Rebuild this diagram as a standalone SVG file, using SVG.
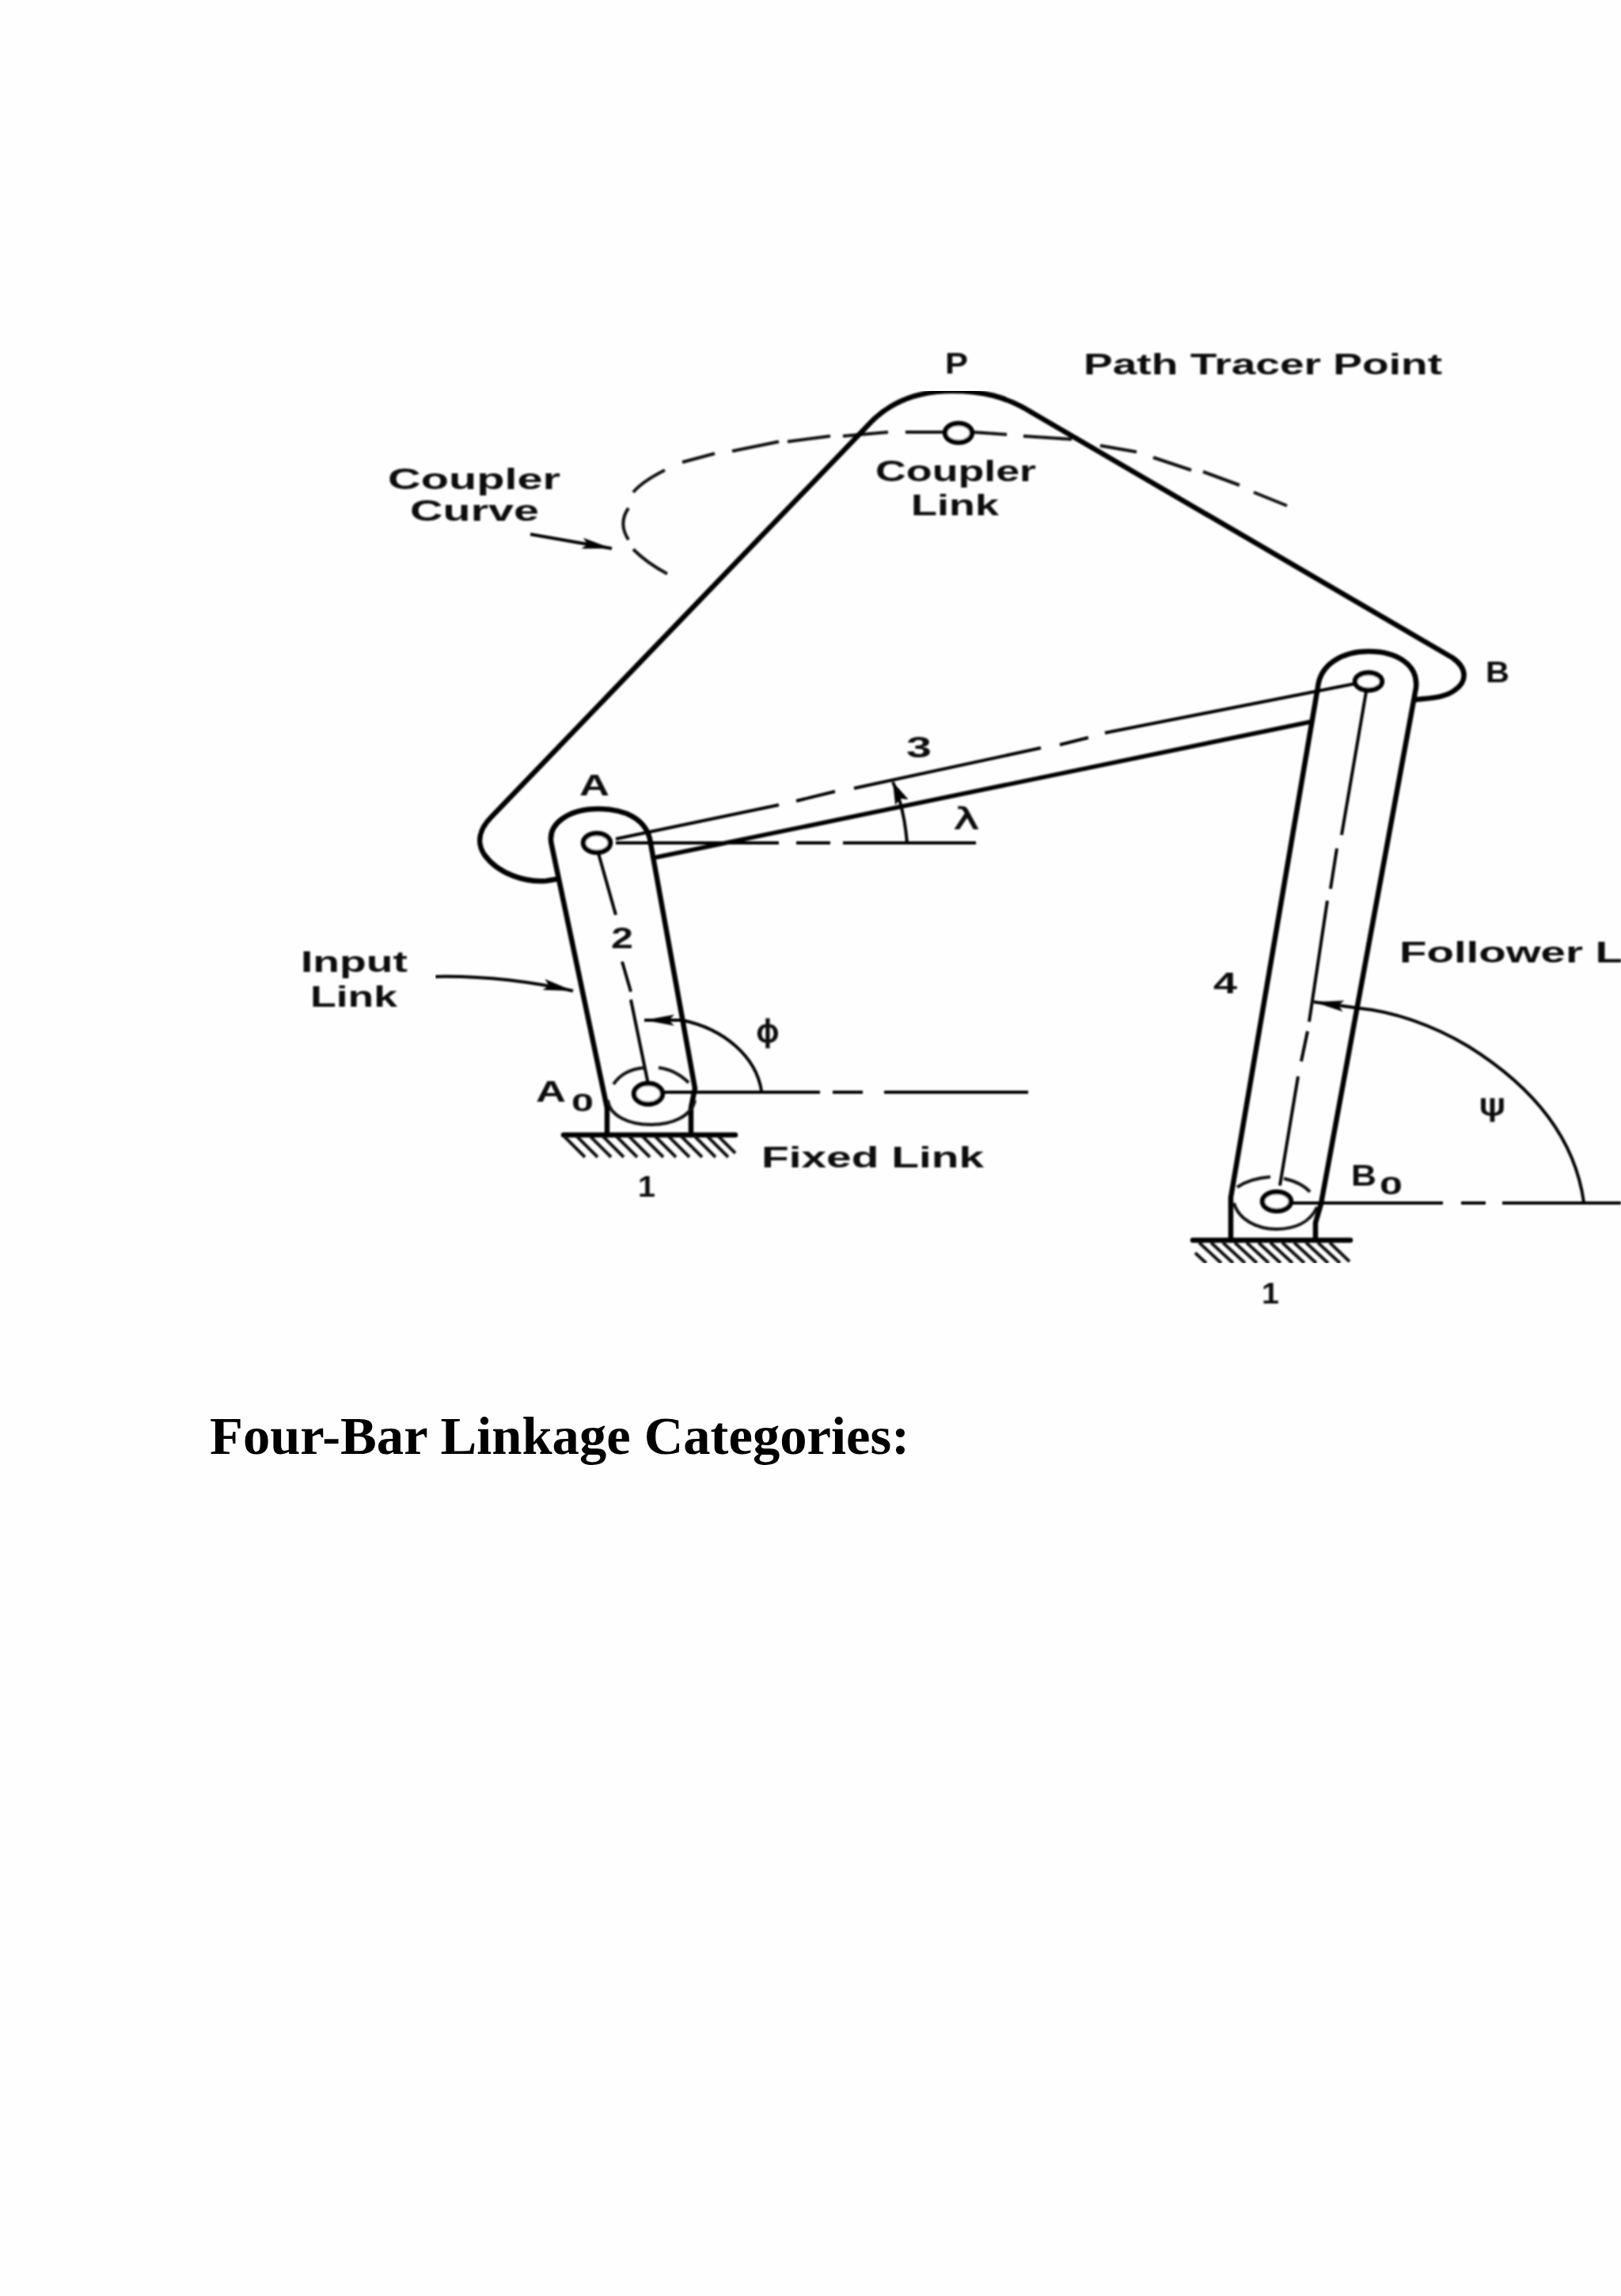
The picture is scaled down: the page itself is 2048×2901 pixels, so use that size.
<svg xmlns="http://www.w3.org/2000/svg" width="2048" height="2901" viewBox="0 0 2048 2901">
<style>
.t{font-family:"Liberation Sans",Arial,sans-serif;font-weight:700;fill:#111}
.n{font-size:37px}
.s{font-family:"DejaVu Sans",sans-serif;font-weight:400;stroke:#111;stroke-width:1}
.h{fill:none;stroke:#000;stroke-width:6.5;stroke-linejoin:round;stroke-linecap:round}
.m{fill:none;stroke:#000;stroke-width:4}
.d{fill:none;stroke:#111;stroke-width:4}
.p{fill:#fff;stroke:#000;stroke-width:6.5}
.g{fill:none;stroke:#111;stroke-width:4}
</style>
<defs>
<marker id="head" markerUnits="userSpaceOnUse" markerWidth="38" markerHeight="16" viewBox="0 0 38 16" refX="38" refY="8" orient="auto"><path d="M0,1 L38,8 L0,15 L7,8 Z" fill="#000"/></marker>
<marker id="headS" markerUnits="userSpaceOnUse" markerWidth="28" markerHeight="18" viewBox="0 0 28 18" refX="28" refY="9" orient="auto"><path d="M0,0 L28,9 L0,18 L5,9 Z" fill="#000"/></marker>
<filter id="soft" x="0" y="0" width="100%" height="100%"><feGaussianBlur stdDeviation="1.1"/></filter>
</defs>
<rect width="2048" height="2901" fill="#fefefe"/>
<g filter="url(#soft)">
<g id="connectors">
<path class="d" d="M843,725 C826,716 812,706 800,694 M794,682 C785,668 785,655 794,642 M800,622 C810,610 824,602 840,594 M862,584 L903,573 M925,570 L984,558 M995,558 L1049,551 M1065,551 L1122,546 M1144,546 L1193,546 M1229,546 L1272,549 M1293,551 L1354,555 M1390,563 L1436,571 M1457,578 L1505,594 M1520,596 L1566,613 M1584,622 L1626,639"/>
<path class="m" d="M670,675 L773,693" marker-end="url(#head)"/>
<path class="m" d="M550,1234 C600,1233 660,1238 724,1252" marker-end="url(#head)"/>
<path class="m" d="M778,1060 L984,1017 M1006,1012 L1055,1000 M1079,996 L1315,945 M1339,941 L1375,932 M1396,926 L1711,864"/>
<path class="h" d="M830,1083 L1656,912" style="stroke-width:5.5"/>
<path class="m" d="M778,1065 L984,1065 M1006,1065 L1049,1065 M1065,1065 L1233,1065"/>
<path class="m" d="M1146,1065 C1144,1040 1140,1015 1128,988" marker-end="url(#headS)"/>
<path class="m" d="M756,1078 L778,1156 M786,1215 L797,1253 M797,1263 L819,1370"/>
<path class="m" d="M962,1378 C955,1335 915,1300 862,1289 L814,1289" marker-end="url(#head)"/>
<path class="m" d="M838,1380 L1036,1380 M1052,1380 L1090,1380 M1117,1380 L1299,1380"/>
<path class="m" d="M1726,874 L1695,1055 M1689,1072 L1681,1123 M1677,1138 L1654,1291 M1652,1303 L1644,1341 M1640,1360 L1617,1498"/>
<path class="m" d="M2001,1519 C1990,1440 1940,1375 1855,1322 C1810,1295 1760,1278 1718,1274 L1660,1266" marker-end="url(#head)"/>
<path class="m" d="M1633,1520 L1823,1520 M1846,1520 L1877,1520 M1898,1520 L2048,1520"/>
</g>
<g id="coupler-link">
<path class="h" d="M702,1111 L690,1113 C665,1115 630,1105 612,1080 C602,1065 605,1048 621,1032 L1095,539 C1125,505 1165,494 1203,494 C1240,494 1270,500 1305,522 L1835,831 C1855,845 1853,862 1838,872 C1825,882 1805,882 1789,884"/>
<ellipse class="p" cx="1211" cy="547" rx="17" ry="12"/>
</g>
<g id="input-link">
<path class="h" d="M767,1434 V1400 L697,1068 C690,1040 720,1022 756,1022 C790,1022 815,1035 821,1060 L878,1375 L873,1400 V1434"/>
<path class="d" d="M768,1390 C770,1410 795,1421 822,1421 C850,1421 874,1410 878,1390 M775,1370 C785,1355 800,1350 815,1349 M832,1349 C848,1351 860,1358 870,1368"/>
<ellipse class="p" cx="754" cy="1065" rx="17" ry="12"/>
<ellipse class="p" cx="819" cy="1382" rx="18" ry="13"/>
</g>
<g id="follower-link">
<path class="h" d="M1555,1567 V1513 L1665,868 C1668,840 1695,823 1729,823 C1765,823 1792,840 1789,869 L1669,1521 L1662,1545 V1567"/>
<path class="d" d="M1559,1520 C1565,1542 1590,1553 1612,1553 C1635,1553 1655,1545 1664,1525 M1563,1500 C1575,1492 1590,1488 1605,1487 M1622,1489 C1635,1492 1648,1498 1655,1506"/>
<ellipse class="p" cx="1729" cy="861" rx="17" ry="11"/>
<ellipse class="p" cx="1613" cy="1518" rx="18" ry="12"/>
</g>
<g id="ground-a">
<path class="h" d="M712,1434 H929"/>
<path class="g" d="M713,1436 l26,26 M729,1436 l26,26 M746,1436 l26,26 M762,1436 l26,26 M779,1436 l26,26 M795,1436 l26,26 M812,1436 l26,26 M828,1436 l26,26 M845,1436 l26,26 M861,1436 l26,26 M878,1436 l26,26 M894,1436 l26,26 M908,1436 l21,21"/>
</g>
<g id="ground-b">
<path class="h" d="M1507,1567 H1706"/>
<path class="g" d="M1510,1583 l14,13 M1515,1570 l28,26 M1530,1570 l28,26 M1545,1570 l28,26 M1560,1570 l28,26 M1575,1570 l28,26 M1590,1570 l28,26 M1605,1570 l28,26 M1620,1570 l28,26 M1635,1570 l28,26 M1650,1570 l28,26 M1665,1570 l28,26 M1680,1570 l25,24"/>
</g>
</g>
<g id="labels" filter="url(#soft)">
<text class="t n" x="490" y="618" textLength="218" lengthAdjust="spacingAndGlyphs">Coupler</text>
<text class="t n" x="518" y="658" textLength="163" lengthAdjust="spacingAndGlyphs">Curve</text>
<text class="t n" x="1106" y="608" textLength="203" lengthAdjust="spacingAndGlyphs">Coupler</text>
<text class="t n" x="1151" y="651" textLength="111" lengthAdjust="spacingAndGlyphs">Link</text>
<text class="t n" x="1194" y="472" textLength="29" lengthAdjust="spacingAndGlyphs">P</text>
<text class="t n" x="1369" y="473" textLength="453" lengthAdjust="spacingAndGlyphs">Path Tracer Point</text>
<text class="t n" x="1877" y="862" textLength="30" lengthAdjust="spacingAndGlyphs">B</text>
<text class="t n" x="1145" y="957" textLength="32" lengthAdjust="spacingAndGlyphs">3</text>
<text class="t n s" x="1205" y="1048" textLength="32" lengthAdjust="spacingAndGlyphs">λ</text>
<text class="t n" x="732" y="1005" textLength="38" lengthAdjust="spacingAndGlyphs">A</text>
<text class="t n" x="772" y="1198" textLength="28" lengthAdjust="spacingAndGlyphs">2</text>
<text class="t n" x="380" y="1228" textLength="135" lengthAdjust="spacingAndGlyphs">Input</text>
<text class="t n" x="392" y="1272" textLength="110" lengthAdjust="spacingAndGlyphs">Link</text>
<text class="t n s" x="955" y="1316" textLength="30" lengthAdjust="spacingAndGlyphs">ϕ</text>
<text class="t n" x="677" y="1392" textLength="38" lengthAdjust="spacingAndGlyphs">A</text>
<text class="t" x="722" y="1404" font-size="32" textLength="28" lengthAdjust="spacingAndGlyphs">0</text>
<text class="t n" x="962" y="1475" textLength="281" lengthAdjust="spacingAndGlyphs">Fixed Link</text>
<text class="t n" x="806" y="1512" textLength="22" lengthAdjust="spacingAndGlyphs">1</text>
<text class="t n" x="1533" y="1255" textLength="30" lengthAdjust="spacingAndGlyphs">4</text>
<text class="t n" x="1768" y="1216" textLength="282" lengthAdjust="spacingAndGlyphs">Follower L</text>
<text class="t n s" x="1869" y="1409" textLength="33" lengthAdjust="spacingAndGlyphs">ψ</text>
<text class="t n" x="1707" y="1498" textLength="32" lengthAdjust="spacingAndGlyphs">B</text>
<text class="t" x="1743" y="1509" font-size="32" textLength="29" lengthAdjust="spacingAndGlyphs">0</text>
<text class="t n" x="1594" y="1647" textLength="22" lengthAdjust="spacingAndGlyphs">1</text>
</g>
<text id="title" x="265" y="1837" font-family="'Liberation Serif','Times New Roman',serif" font-weight="700" font-size="68.6" fill="#000">Four-Bar Linkage Categories:</text>
</svg>
